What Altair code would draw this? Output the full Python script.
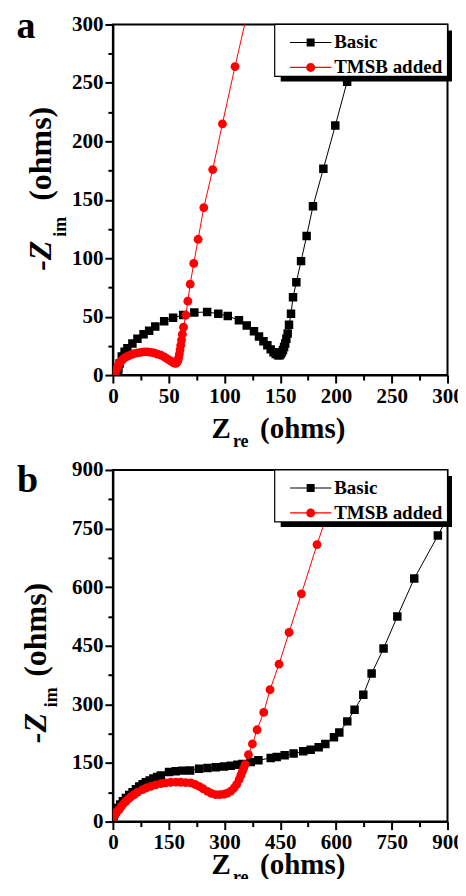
import altair as alt
import pandas as pd

FONT = "Liberation Serif"
SERIES = ["Basic", "TMSB added"]
COLORS = ["#000000", "#ff0000"]

# ---------------- panel a ----------------
a_basic_x = [4, 5, 6, 8, 10.5, 13, 17.5, 22, 27.5, 32.5, 38, 46, 54, 63, 73, 84.5, 94.5, 103, 113, 120,
             126.5, 131, 135, 138.5, 141.5, 144, 146, 148, 149.5, 150.5, 151.5, 152.5, 153.5, 154.5, 155.5,
             156.7, 157.9, 159.7, 161.5, 164.5, 168.7, 173.7, 179.4, 188.7, 199.4, 210, 221, 232]
a_basic_y = [0.5, 5, 10, 16, 20, 23, 27, 31, 35, 38, 41.5, 46, 49, 51.5, 53.5, 54, 52.5, 50.5, 47, 42.5,
             37.5, 33, 29, 25.5, 22, 19.5, 18, 17, 17, 18, 19.5, 21.5, 24, 27, 31,
             35.5, 43, 52.5, 66.5, 79.5, 97.5, 119, 144.5, 176.5, 213.5, 251, 289, 327]
a_tmsb_x = [1.5, 2.5, 3.5, 4.5, 5.5, 7, 8.5, 10, 12, 14, 16.5, 19, 22, 25, 28, 31, 34, 37, 40, 43, 46,
            48.5, 51, 53, 55, 56.5, 57.5, 58.3, 59, 59.6, 60.2, 60.8, 61.5, 62.3, 63.3, 65.4, 67.2, 69.3,
            72.5, 76.4, 81.5, 89.5, 98.2, 109.5, 121.5]
a_tmsb_y = [0.5, 3, 5.5, 7.5, 9.5, 11.5, 13, 14.5, 15.5, 16.5, 17.5, 18.3, 19, 19.5, 19.8, 19.8, 19.5, 19,
            18, 17, 15.5, 14, 12.5, 11.3, 10.3, 10, 10.8, 12.5, 15, 18, 21.5, 25.5, 30, 35, 41, 51.3, 63.2,
            77.8, 95.5, 116.2, 143.3, 175.8, 215, 264, 314]

# ---------------- panel b ----------------
b_basic_x = [1.8, 4, 8, 13, 19.7, 27, 35, 44, 53, 62, 70.8, 80, 88.7, 99, 109, 119, 129, 151, 169, 187,
             207.7, 232, 254.4, 276.7, 299, 317, 335, 348.4, 370.8, 391.4, 424.5, 440.6, 462, 486, 512,
             532, 553.5, 571.4, 594.6, 609, 630.5, 650, 673.5, 695.9, 728, 765, 810.5, 874, 940]
b_basic_y = [13.6, 20, 26, 35, 43.5, 52, 60.5, 68, 75, 83, 90, 95.5, 100.6, 105.5, 110, 114, 118, 127,
             128.6, 130.4, 131, 135.5, 137, 139, 141, 143, 145.7, 147.5, 152.6, 156.8, 162.9, 165.4, 169.6,
             174, 180, 184, 190, 198.6, 215.6, 228, 256.5, 286, 324.7, 379, 443, 525, 622, 732, 850]
b_tmsb_x = [3.6, 8, 12, 17, 22, 28, 35, 42, 49, 57.3, 66, 79.8, 90, 102, 115, 129, 142, 155.8, 170, 182.7,
            196, 209.6, 221, 232, 243, 254.4, 265, 276.7, 288, 299, 308, 317, 326, 333, 339.5, 344, 348.4,
            352, 355.5, 364.6, 375.3, 387.8, 405.7, 422.7, 446.9, 473.8, 507, 549, 595, 640]
b_tmsb_y = [13.6, 22, 27, 30.7, 38, 45, 52, 58, 64, 69, 75, 82, 86, 90, 94, 97, 99, 100.6, 101, 100.6,
            99.5, 99, 95, 90, 84, 77.5, 72, 69, 69, 70, 73, 78, 86, 95, 107.4, 118, 128.6, 137, 145.7,
            171.3, 198.6, 235, 279.5, 337.5, 403, 484, 583, 709, 840, 975]

# legend symbols: a line with a square / a circle (unit = 7 px)
PATHS = [
    "M0.2,-0.08H6.1V0.08H0.2Z M2.57,-0.57H3.71V0.57H2.57Z",
    "M0.2,-0.08H6.1V0.08H0.2Z M3.78,0 A0.64,0.64 0 1,1 2.5,0 A0.64,0.64 0 1,1 3.78,0 Z",
]


def frame(bx, by, tx, ty):
    rows = []
    for i, (x, y) in enumerate(zip(bx, by)):
        rows.append({"x": x, "y": y, "series": SERIES[0], "idx": i})
    for i, (x, y) in enumerate(zip(tx, ty)):
        rows.append({"x": x, "y": y, "series": SERIES[1], "idx": i})
    return pd.DataFrame(rows)


one = alt.Chart(pd.DataFrame({"k": [0]}))


def txt(s, x, y, size, angle=0, italic=False):
    return one.mark_text(
        text=s, font=FONT, fontSize=size, fontWeight="bold",
        fontStyle="italic" if italic else "normal", angle=angle,
        align="center", baseline="alphabetic", color="black",
    ).encode(x=alt.value(x), y=alt.value(y))


def axis(values, orient, size, labels=True):
    kw = dict(values=values, orient=orient, tickSize=size, tickWidth=2, tickColor="black",
              grid=False, title=None, labelFlush=False, labelOverlap=False)
    if labels:
        kw.update(domainWidth=2, domainColor="black", labelFont=FONT, labelFontSize=21,
                  labelFontWeight="bold", labelColor="black", labelPadding=2)
    else:
        kw.update(labels=False, domain=False)
    return alt.Axis(**kw)


def panel(df, vmax, step, h, letter, letter_pos, yt, xt_dy):
    major = list(range(0, vmax + 1, step))
    minor = [v + step / 2 for v in major[:-1]]
    xs = alt.Scale(domain=[0, vmax], nice=False, zero=False)
    ys = alt.Scale(domain=[0, vmax], nice=False, zero=False)
    base = alt.Chart(df)
    basic = base.transform_filter(alt.datum.series == SERIES[0])
    tmsb = base.transform_filter(alt.datum.series == SERIES[1])

    line_b = basic.mark_line(color=COLORS[0], strokeWidth=1, clip=True).encode(
        x=alt.X("x:Q", scale=xs, axis=axis(major, "bottom", 8)),
        y=alt.Y("y:Q", scale=ys, axis=axis(major, "left", 8)),
        order="idx:Q",
    )
    line_t = tmsb.mark_line(color=COLORS[1], strokeWidth=1, clip=True).encode(
        x=alt.X("x:Q", scale=xs, axis=None),
        y=alt.Y("y:Q", scale=ys, axis=None),
        order="idx:Q",
    )
    sq = basic.mark_square(color=COLORS[0], size=72, opacity=1, clip=True).encode(
        x=alt.X("x:Q", scale=xs, axis=axis(minor, "bottom", 5, labels=False)),
        y=alt.Y("y:Q", scale=ys, axis=axis(minor, "left", 5, labels=False)),
    )
    ci = tmsb.mark_circle(color=COLORS[1], size=78, opacity=1, clip=True).encode(
        x=alt.X("x:Q", scale=xs, axis=None),
        y=alt.Y("y:Q", scale=ys, axis=None),
    )
    leg = alt.Legend(
        title=None, orient="none", legendX=162, legendY=4, padding=4.5, zindex=2,
        symbolSize=196, symbolStrokeWidth=0, symbolOpacity=1,
        labelOffset=36, rowPadding=5, labelFont=FONT, labelFontSize=19,
        labelFontWeight="bold", labelColor="black", labelLimit=300,
    )
    lg = base.mark_point(filled=True, opacity=0, clip=True).encode(
        x=alt.X("x:Q", scale=xs, axis=None),
        y=alt.Y("y:Q", scale=ys, axis=None),
        color=alt.Color("series:N", scale=alt.Scale(domain=SERIES, range=COLORS), legend=leg),
        shape=alt.Shape("series:N", scale=alt.Scale(domain=SERIES, range=PATHS), legend=leg),
    )
    # legend frame and its drop shadow
    shadow = one.mark_rect(color="black").encode(
        x=alt.value(168), x2=alt.value(339.5), y=alt.value(6), y2=alt.value(57))
    box = one.mark_rect(fill="white", stroke="black", strokeWidth=1.2).encode(
        x=alt.value(162), x2=alt.value(335), y=alt.value(0), y2=alt.value(52))

    texts = [
        txt(letter, letter_pos[0], letter_pos[1], 38),
        txt("Z", 108.5, h + xt_dy, 29),
        txt("re", 128, h + xt_dy + 9, 18),
        txt("(ohms)", 190, h + xt_dy, 29),
        txt("-Z", yt[3], yt[0], 32, angle=270, italic=True),
        txt("im", yt[4], yt[1], 18, angle=270),
        txt("(ohms)", yt[3], yt[2], 32, angle=270),
    ]
    return alt.layer(line_b, line_t, sq, ci, lg, shadow, box, *texts).resolve_axis(
        x="independent", y="independent").properties(width=335, height=h)


pa = panel(frame(a_basic_x, a_basic_y, a_tmsb_x, a_tmsb_y), 300, 50, 351,
           "a", (-87, 14), (231.5, 202.5, 129.5, -62, -46.5), 63)
pb = panel(frame(b_basic_x, b_basic_y, b_tmsb_x, b_tmsb_y), 900, 150, 352,
           "b", (-85.5, 22), (258.5, 227.5, 160, -67, -56), 52)

chart = alt.vconcat(pa, pb, spacing=95, bounds="flush").resolve_scale(
    color="independent", shape="independent"
).resolve_legend(color="independent", shape="independent").properties(
    padding={"left": 7, "top": -1, "right": -6.5, "bottom": -9}
).configure_view(stroke="black", strokeWidth=2)

chart.save("out.html", embed_options={"renderer": "svg", "actions": False})
